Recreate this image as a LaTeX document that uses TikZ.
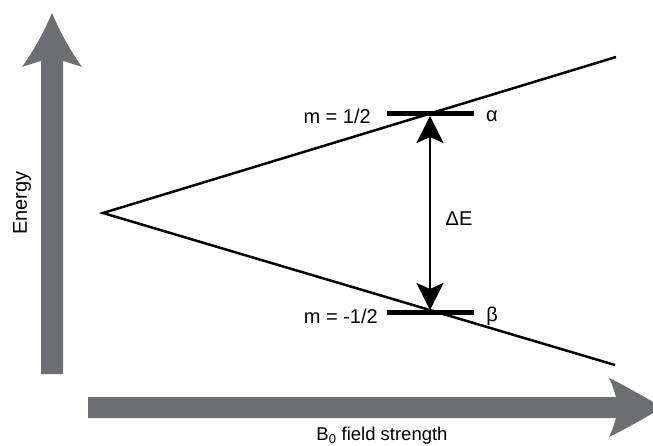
\documentclass[tikz,border=0pt]{standalone}
\usepackage{fontspec}
\setmainfont{Liberation Sans}
\usetikzlibrary{arrows.meta}
\definecolor{axisgray}{RGB}{109,110,113}
\begin{document}
\begin{tikzpicture}[x=1pt,y=-1pt,
  lvl/.style={line width=2.5pt},
  bar/.style={line width=5pt},
  lab/.style={font=\fontsize{20}{22}\selectfont, inner sep=0pt},
  labsmall/.style={font=\fontsize{18.5}{20}\selectfont, inner sep=0pt},
  gap/.style={line width=2.5pt, {Stealth[length=27pt,width=27pt,inset=6pt]}-{Stealth[length=27pt,width=27pt,inset=6pt]}}
]
\useasboundingbox (0,0) rectangle (653,446);
\clip (0,0) rectangle (653,446);
% vertical axis arrow
\fill[axisgray] (41,374) -- (41,61)
  .. controls (34,63) and (28,65) .. (22,67)
  .. controls (34,50) and (44,32) .. (52,13)
  .. controls (60,32) and (70,50) .. (82,67)
  .. controls (76,65) and (70,63) .. (63,61)
  -- (63,374) -- cycle;
% horizontal axis arrow
\fill[axisgray] (88,397) -- (616,397)
  .. controls (614,390) and (612,384) .. (609,378)
  .. controls (626,386) and (644,397) .. (663,407.5)
  .. controls (644,418) and (626,429) .. (609,437)
  .. controls (612,431) and (614,425) .. (616,418)
  -- (88,418) -- cycle;
% energy levels
\coordinate (v) at (103,213);
\coordinate (ue) at (616,57);
\coordinate (le) at (615,365);
\draw[lvl] (ue) -- (v) -- (le);
\coordinate (aL) at (387,113.5);
\coordinate (aR) at (474,113.5);
\coordinate (bL) at (387,312.5);
\coordinate (bR) at (474,312.5);
\draw[bar] (aL) -- (aR);
\draw[bar] (bL) -- (bR);
\coordinate (at) at (430,116);
\coordinate (bt) at (430,310);
\draw[gap] (at) -- (bt);
% labels
\node[lab, anchor=east] (ma) at (371,116.5) {m = 1/2};
\node[lab, anchor=east] (mb) at (378,316) {m = -1/2};
\node[lab] (alpha) at (492,116) {α};
\node[lab] (beta) at (492,316) {β};
\node[lab] (dE) at (459,219) {ΔE};
\node[lab, rotate=90] (en) at (22,203) {Energy};
\node[labsmall] (bf) at (382,436) {B\textsubscript{0} field strength};
\end{tikzpicture}
\end{document}
